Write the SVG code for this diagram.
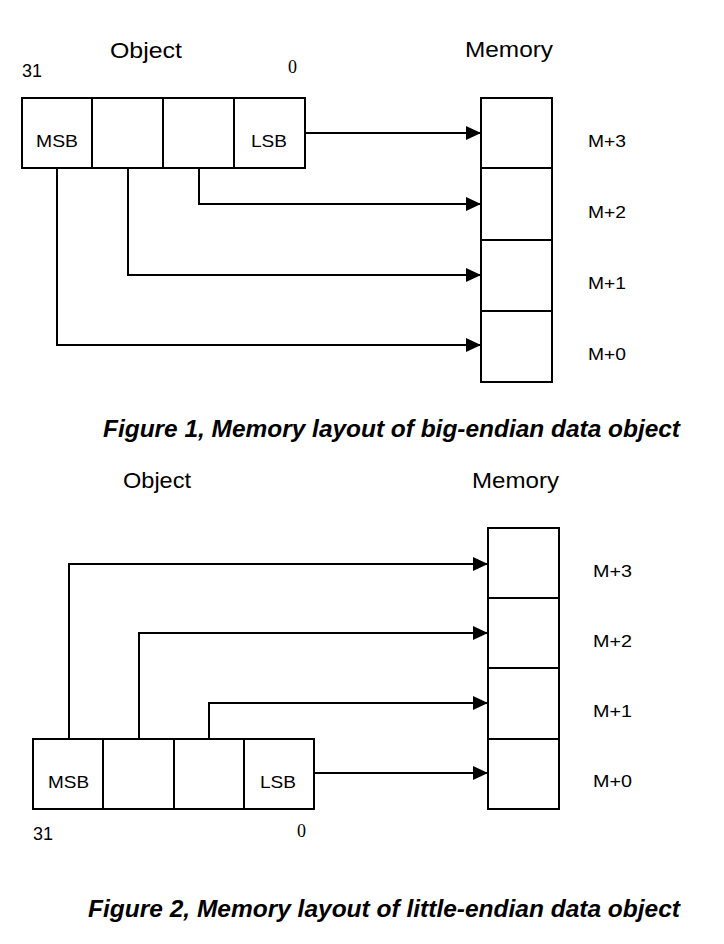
<svg xmlns="http://www.w3.org/2000/svg" width="724" height="944" viewBox="0 0 724 944">
<style>
.box{fill:#fff;stroke:#000;stroke-width:2}
.ln{fill:none;stroke:#000;stroke-width:2}
.t{font-family:"Liberation Sans",Arial,sans-serif;fill:#000}
.h{font-size:22px}
.c{font-size:17px}
.n{font-size:18px}
.s{font-family:"Liberation Serif","Times New Roman",serif;font-size:19px;fill:#000}
.cap{font-family:"Liberation Sans",Arial,sans-serif;font-size:24px;font-weight:bold;font-style:italic;fill:#000}
</style>
<defs>
<marker id="ah" markerWidth="15" markerHeight="14" refX="15" refY="7" orient="auto" markerUnits="userSpaceOnUse">
<path d="M0,0 L15,7 L0,14 Z" fill="#000"/>
</marker>
</defs>
<rect width="724" height="944" fill="#fff"/>

<!-- Figure 1 -->
<g id="fig1-object">
<text class="t h" x="110" y="58" textLength="72" lengthAdjust="spacingAndGlyphs">Object</text>
<text class="t n" x="22" y="77" textLength="20" lengthAdjust="spacingAndGlyphs">31</text>
<text class="s" x="288" y="73" textLength="9" lengthAdjust="spacingAndGlyphs">0</text>
<g id="obj1-msb"><rect class="box" x="22" y="98" width="70" height="70"/><text class="t c" x="36" y="147" textLength="42" lengthAdjust="spacingAndGlyphs">MSB</text></g>
<g id="obj1-b2"><rect class="box" x="92" y="98" width="71" height="70"/></g>
<g id="obj1-b1"><rect class="box" x="163" y="98" width="71" height="70"/></g>
<g id="obj1-lsb"><rect class="box" x="234" y="98" width="71" height="70"/><text class="t c" x="251" y="147" textLength="36" lengthAdjust="spacingAndGlyphs">LSB</text></g>
</g>
<g id="fig1-memory">
<text class="t h" x="465" y="57" textLength="88" lengthAdjust="spacingAndGlyphs">Memory</text>
<g id="mem1-3"><rect class="box" x="481" y="98" width="71" height="70"/><text class="t c" x="588" y="147" textLength="38" lengthAdjust="spacingAndGlyphs">M+3</text></g>
<g id="mem1-2"><rect class="box" x="481" y="168" width="71" height="72"/><text class="t c" x="588" y="218" textLength="38" lengthAdjust="spacingAndGlyphs">M+2</text></g>
<g id="mem1-1"><rect class="box" x="481" y="240" width="71" height="71"/><text class="t c" x="588" y="289" textLength="38" lengthAdjust="spacingAndGlyphs">M+1</text></g>
<g id="mem1-0"><rect class="box" x="481" y="311" width="71" height="71"/><text class="t c" x="588" y="360" textLength="38" lengthAdjust="spacingAndGlyphs">M+0</text></g>
</g>
<g id="fig1-connectors">
<path class="ln" d="M305,133 H481" marker-end="url(#ah)"/>
<path class="ln" d="M199,168 V204 H481" marker-end="url(#ah)"/>
<path class="ln" d="M128,168 V275 H481" marker-end="url(#ah)"/>
<path class="ln" d="M57,168 V345 H481" marker-end="url(#ah)"/>
</g>
<text class="cap" x="103" y="437" textLength="577" lengthAdjust="spacingAndGlyphs">Figure 1, Memory layout of big-endian data object</text>

<!-- Figure 2 -->
<g id="fig2-object">
<text class="t h" x="123" y="488" textLength="68" lengthAdjust="spacingAndGlyphs">Object</text>
<g id="obj2-msb"><rect class="box" x="33" y="739" width="70" height="70"/><text class="t c" x="48" y="788" textLength="41" lengthAdjust="spacingAndGlyphs">MSB</text></g>
<g id="obj2-b2"><rect class="box" x="103" y="739" width="71" height="70"/></g>
<g id="obj2-b1"><rect class="box" x="174" y="739" width="70" height="70"/></g>
<g id="obj2-lsb"><rect class="box" x="244" y="739" width="70" height="70"/><text class="t c" x="260" y="788" textLength="36" lengthAdjust="spacingAndGlyphs">LSB</text></g>
<text class="t n" x="33" y="840" textLength="20" lengthAdjust="spacingAndGlyphs">31</text>
<text class="s" x="297" y="837" textLength="9" lengthAdjust="spacingAndGlyphs">0</text>
</g>
<g id="fig2-memory">
<text class="t h" x="472" y="488" textLength="87" lengthAdjust="spacingAndGlyphs">Memory</text>
<g id="mem2-3"><rect class="box" x="488" y="528" width="71" height="70"/><text class="t c" x="593" y="577" textLength="39" lengthAdjust="spacingAndGlyphs">M+3</text></g>
<g id="mem2-2"><rect class="box" x="488" y="598" width="71" height="70"/><text class="t c" x="593" y="647" textLength="39" lengthAdjust="spacingAndGlyphs">M+2</text></g>
<g id="mem2-1"><rect class="box" x="488" y="668" width="71" height="71"/><text class="t c" x="593" y="717" textLength="39" lengthAdjust="spacingAndGlyphs">M+1</text></g>
<g id="mem2-0"><rect class="box" x="488" y="739" width="71" height="70"/><text class="t c" x="593" y="787" textLength="39" lengthAdjust="spacingAndGlyphs">M+0</text></g>
</g>
<g id="fig2-connectors">
<path class="ln" d="M69,739 V564 H488" marker-end="url(#ah)"/>
<path class="ln" d="M139,739 V633 H488" marker-end="url(#ah)"/>
<path class="ln" d="M209,739 V703 H488" marker-end="url(#ah)"/>
<path class="ln" d="M314,773 H488" marker-end="url(#ah)"/>
</g>
<text class="cap" x="88" y="917" textLength="592" lengthAdjust="spacingAndGlyphs">Figure 2, Memory layout of little-endian data object</text>
</svg>
